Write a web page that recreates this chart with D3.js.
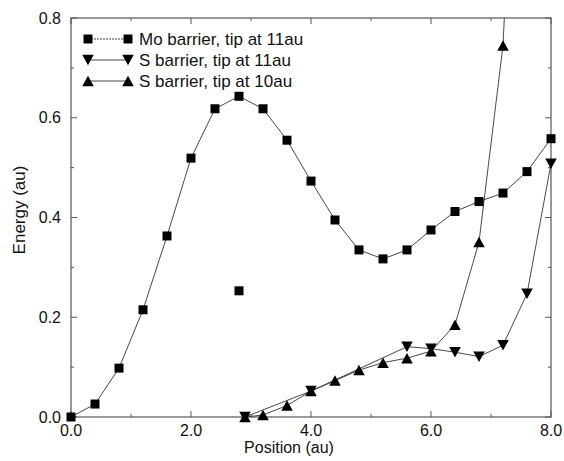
<!DOCTYPE html>
<html>
<head>
<meta charset="utf-8">
<script src="https://d3js.org/d3.v7.min.js"></script>
<style>
  body { margin: 0; background: #fff; }
  text { font-family: "Liberation Sans", Arial, sans-serif; fill: #111; }
</style>
</head>
<body>
<svg width="564" height="461"></svg>
<script>
// Mo barrier, tip at 11au (squares)
var moX = [0.0, 0.4, 0.8, 1.2, 1.6, 2.0, 2.4, 2.8, 3.2, 3.6, 4.0, 4.4, 4.8, 5.2, 5.6, 6.0, 6.4, 6.8, 7.2, 7.6, 8.0];
var moY = [0.000, 0.026, 0.098, 0.215, 0.363, 0.519, 0.618, 0.643, 0.618, 0.555, 0.473, 0.395, 0.335, 0.317, 0.335, 0.375, 0.412, 0.432, 0.449, 0.492, 0.558];
// the lone square that is not joined
var moExtraX = [2.8];
var moExtraY = [0.253];

// S barrier, tip at 11au (down triangles)
var s11X = [2.9, 4.0, 5.6, 6.0, 6.4, 6.8, 7.2, 7.6, 8.0];
var s11Y = [0.000, 0.052, 0.141, 0.137, 0.130, 0.121, 0.144, 0.247, 0.508];

// S barrier, tip at 10au (up triangles)
var s10X = [2.9, 3.2, 3.6, 4.0, 4.4, 4.8, 5.2, 5.6, 6.0, 6.4, 6.8, 7.2, 7.6];
var s10Y = [0.000, 0.004, 0.023, 0.052, 0.073, 0.094, 0.109, 0.118, 0.132, 0.185, 0.351, 0.745, 1.75];

var xTicks = [0, 2, 4, 6, 8];
var yTicks = [0, 0.2, 0.4, 0.6, 0.8];
var legendLabels = ["Mo barrier, tip at 11au", "S barrier, tip at 11au", "S barrier, tip at 10au"];

(function () {
    var svg = d3.select('svg');
    var pLeft = 71, pRight = 551, pTop = 18, pBottom = 417;

    var x = d3.scaleLinear().domain([0, 8]).range([pLeft, pRight]);
    var y = d3.scaleLinear().domain([0, 0.8]).range([pBottom, pTop]);

    var axisColor = '#555';

    svg.append('clipPath').attr('id', 'plot')
        .append('rect')
        .attr('x', pLeft).attr('y', pTop)
        .attr('width', pRight - pLeft).attr('height', pBottom - pTop);

    // frame
    svg.append('rect')
        .attr('x', pLeft).attr('y', pTop)
        .attr('width', pRight - pLeft).attr('height', pBottom - pTop)
        .style('fill', 'none').style('stroke', axisColor).style('stroke-width', 1.2);

    // inward ticks on all four sides
    var xMinor = d3.range(0, 8.01, 1);
    var yMinor = d3.range(0, 0.801, 0.1);
    var tickG = svg.append('g').style('stroke', axisColor).style('stroke-width', 1);
    xMinor.forEach(function (v) {
        var len = (Math.round(v) % 2 === 0) ? 6 : 3;
        tickG.append('line').attr('x1', x(v)).attr('x2', x(v)).attr('y1', pBottom).attr('y2', pBottom - len);
        tickG.append('line').attr('x1', x(v)).attr('x2', x(v)).attr('y1', pTop).attr('y2', pTop + len);
    });
    yMinor.forEach(function (v) {
        var len = (Math.round(v * 10) % 2 === 0) ? 6 : 3;
        tickG.append('line').attr('x1', pLeft).attr('x2', pLeft + len).attr('y1', y(v)).attr('y2', y(v));
        tickG.append('line').attr('x1', pRight).attr('x2', pRight - len).attr('y1', y(v)).attr('y2', y(v));
    });

    // tick labels
    svg.append('g').selectAll('text')
        .data(xTicks).enter().append('text')
        .attr('x', function (d) { return x(d); })
        .attr('y', 436)
        .attr('text-anchor', 'middle')
        .style('font-size', '16px')
        .text(function (d) { return d3.format('.1f')(d); });

    svg.append('g').selectAll('text')
        .data(yTicks).enter().append('text')
        .attr('x', pLeft - 10)
        .attr('y', function (d) { return y(d) + 5.5; })
        .attr('text-anchor', 'end')
        .style('font-size', '16px')
        .text(function (d) { return d3.format('.1f')(d); });

    // axis titles
    svg.append('text')
        .attr('x', 289)
        .attr('y', 453)
        .attr('text-anchor', 'middle')
        .style('font-size', '16px')
        .text('Position (au)');

    svg.append('text')
        .attr('transform', 'translate(25,210) rotate(-90)')
        .attr('text-anchor', 'middle')
        .style('font-size', '17px')
        .text('Energy (au)');

    // lines
    var line = d3.line()
        .x(function (d) { return x(d[0]); })
        .y(function (d) { return y(d[1]); });

    function pairs(xs, ys) { return xs.map(function (v, i) { return [v, ys[i]]; }); }

    var moData = pairs(moX, moY);
    var s11Data = pairs(s11X, s11Y);
    var s10Data = pairs(s10X, s10Y);

    var plot = svg.append('g').attr('clip-path', 'url(#plot)');

    [moData, s11Data, s10Data].forEach(function (d) {
        plot.append('path')
            .datum(d)
            .attr('d', line)
            .style('fill', 'none')
            .style('stroke', '#333')
            .style('stroke-width', 0.9);
    });

    // square marker, and triangles centred on their bounding box
    var sq = 9, tw = 11.5, th = 10.5;
    var symSquare = d3.symbol().type(d3.symbolSquare).size(sq * sq);
    var triUp = 'M0,' + (-th / 2) + 'L' + (tw / 2) + ',' + (th / 2) + 'L' + (-tw / 2) + ',' + (th / 2) + 'Z';
    var triDown = 'M0,' + (th / 2) + 'L' + (tw / 2) + ',' + (-th / 2) + 'L' + (-tw / 2) + ',' + (-th / 2) + 'Z';

    function drawMarks(g, data, shape) {
        g.selectAll(null).data(data).enter().append('path')
            .attr('d', shape)
            .attr('transform', function (d) { return 'translate(' + x(d[0]) + ',' + y(d[1]) + ')'; })
            .style('fill', '#000');
    }

    // markers may overhang the frame a little, so draw them unclipped
    var marks = svg.append('g');
    drawMarks(marks, moData, symSquare);
    drawMarks(marks, pairs(moExtraX, moExtraY), symSquare);
    drawMarks(marks, s11Data, triDown);
    drawMarks(marks, s10Data.filter(function (d) { return d[1] <= 0.8; }), triUp);

    // legend
    var legRows = [39, 60, 81];
    var legShapes = [symSquare, triDown, triUp];
    var lx1 = 88, lx2 = 128;
    legendLabels.forEach(function (label, i) {
        var g = svg.append('g');
        g.append('line')
            .attr('x1', lx1).attr('x2', lx2)
            .attr('y1', legRows[i]).attr('y2', legRows[i])
            .style('stroke', '#333').style('stroke-width', 0.9)
            .style('stroke-dasharray', i === 0 ? '2,1' : null);
        [lx1, lx2].forEach(function (px) {
            g.append('path')
                .attr('d', legShapes[i])
                .attr('transform', 'translate(' + px + ',' + legRows[i] + ')')
                .style('fill', '#000');
        });
        g.append('text')
            .attr('x', 139)
            .attr('y', legRows[i] + 6)
            .style('font-size', '17px')
            .text(label);
    });
})();
</script>
</body>
</html>
